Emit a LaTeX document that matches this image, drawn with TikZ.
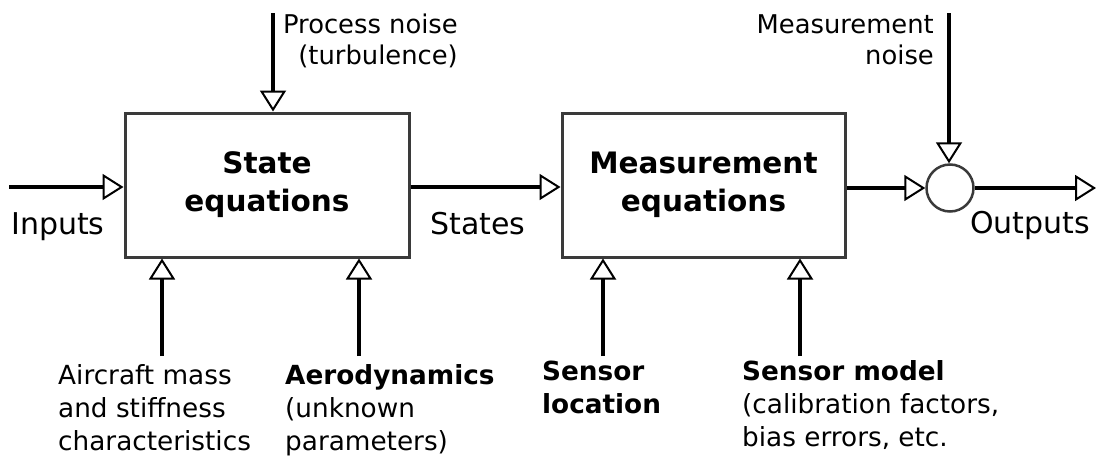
\documentclass[tikz,border=0pt]{standalone}
\usepackage{fontspec}
\setmainfont{DejaVu Sans}
\usetikzlibrary{arrows.meta}
\definecolor{boxgray}{HTML}{3A3A3A}
\begin{document}
\begin{tikzpicture}[x=1pt,y=-1pt,
  box/.style={draw=boxgray, line width=3pt, minimum width=284pt, minimum height=144pt,
    inner sep=0pt, align=center, font=\fontsize{29.5}{38}\selectfont\bfseries},
  arr/.style={line width=4.6pt, -{Triangle[open, length=21pt, width=26pt, line width=2pt]}},
  lbl/.style={inner sep=0pt, font=\fontsize{26.3}{33}\selectfont},
  toplbl/.style={inner sep=0pt, font=\fontsize{25.8}{31}\selectfont},
  big/.style={inner sep=0pt, font=\fontsize{30}{36}\selectfont}]
\useasboundingbox (0,0) rectangle (1097,458);

% blocks
\node[box] (state) at (267,185) {State\\equations};
\node[box, minimum width=283pt] (meas) at (703.5,185) {Measurement\\equations};
\node[circle, draw=boxgray, line width=2.5pt, minimum size=47pt, inner sep=0pt] (sum) at (950,188) {};

% horizontal signal flow
\coordinate (in) at (9,187);
\coordinate (out) at (1096,188);
\draw[arr] (in) -- (in -| state.west);
\draw[arr] (state.east |- in) -- (meas.west |- in);
\draw[arr] (meas.east |- sum.west) -- (sum.west);
\draw[arr] (sum.east) -- (out);

% noise inputs
\coordinate (pn) at (273,13);
\coordinate (mn) at (949,13);
\draw[arr] (pn) -- (pn |- state.north);
\draw[arr] (mn) -- (mn |- sum.north);

% parameter inputs from below
\coordinate (b1) at (162,356);
\coordinate (b2) at (359,356);
\coordinate (b3) at (603,356);
\coordinate (b4) at (800,356);
\draw[arr] (b1) -- (b1 |- state.south);
\draw[arr] (b2) -- (b2 |- state.south);
\draw[arr] (b3) -- (b3 |- meas.south);
\draw[arr] (b4) -- (b4 |- meas.south);

% labels
\node[big, anchor=base west] (inl) at (11,234) {Inputs};
\node[big, anchor=base west] (stl) at (430,234) {States};
\node[big, anchor=base west] (outl) at (970,233) {Outputs};
\node[toplbl, anchor=north east, align=right] (pnl) at (458,13.4) {Process noise\\(turbulence)};
\node[toplbl, anchor=north east, align=right] (mnl) at (934,14) {Measurement\\noise};
\node[lbl, anchor=north west, align=left] (acl) at (58,364) {Aircraft mass\\and stiffness\\characteristics};
\node[lbl, anchor=north west, align=left] (aerl) at (285,364) {\bfseries Aerodynamics\\(unknown\\parameters)};
\node[lbl, anchor=north west, align=left] (sll) at (542,360.5) {\bfseries Sensor\\\bfseries location};
\node[lbl, anchor=north west, align=left] (sml) at (742,360) {\bfseries Sensor model\\(calibration factors,\\bias errors, etc.};
\end{tikzpicture}
\end{document}
